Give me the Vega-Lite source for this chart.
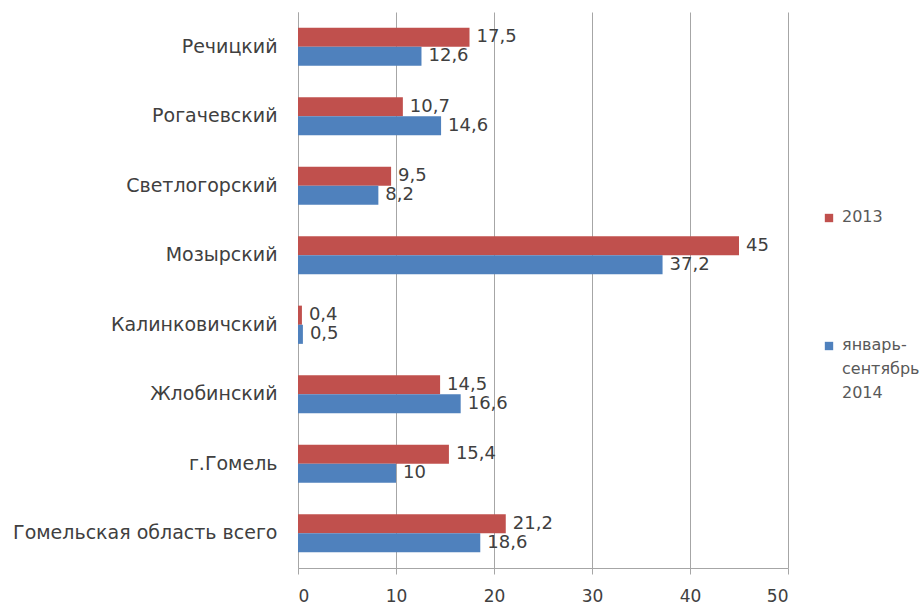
{
  "$schema": "https://vega.github.io/schema/vega-lite/v6.json",
  "width": 490,
  "height": 556,
  "autosize": {"type": "none"},
  "padding": {"left": 298, "top": 12, "right": 135, "bottom": 44},
  "background": "white",
  "config": {
    "locale": {"number": {"decimal": ",", "thousands": " ", "grouping": [3], "currency": ["", ""]}},
    "font": "DejaVu Sans",
    "view": {"stroke": null}
  },
  "data": {
    "values": [
      {"region": "Речицкий", "series": "2013", "value": 17.5},
      {"region": "Речицкий", "series": "январь-сентябрь 2014", "value": 12.6},
      {"region": "Рогачевский", "series": "2013", "value": 10.7},
      {"region": "Рогачевский", "series": "январь-сентябрь 2014", "value": 14.6},
      {"region": "Светлогорский", "series": "2013", "value": 9.5},
      {"region": "Светлогорский", "series": "январь-сентябрь 2014", "value": 8.2},
      {"region": "Мозырский", "series": "2013", "value": 45},
      {"region": "Мозырский", "series": "январь-сентябрь 2014", "value": 37.2},
      {"region": "Калинковичский", "series": "2013", "value": 0.4},
      {"region": "Калинковичский", "series": "январь-сентябрь 2014", "value": 0.5},
      {"region": "Жлобинский", "series": "2013", "value": 14.5},
      {"region": "Жлобинский", "series": "январь-сентябрь 2014", "value": 16.6},
      {"region": "г.Гомель", "series": "2013", "value": 15.4},
      {"region": "г.Гомель", "series": "январь-сентябрь 2014", "value": 10},
      {"region": "Гомельская область всего", "series": "2013", "value": 21.2},
      {"region": "Гомельская область всего", "series": "январь-сентябрь 2014", "value": 18.6}
    ]
  },
  "encoding": {
    "y": {
      "field": "region",
      "type": "nominal",
      "sort": null,
      "scale": {"paddingInner": 0.45, "paddingOuter": 0.225},
      "axis": {
        "title": null,
        "ticks": false,
        "domainColor": "#a6a6a6",
        "labelFont": "DejaVu Sans",
        "labelFontSize": 19,
        "labelColor": "#404040",
        "labelPadding": 21,
        "labelLimit": 300
      }
    },
    "yOffset": {"field": "series", "type": "nominal", "sort": ["2013", "январь-сентябрь 2014"]},
    "x": {
      "field": "value",
      "type": "quantitative",
      "scale": {"domain": [0, 50], "nice": false},
      "axis": {
        "title": null,
        "values": [0, 10, 20, 30, 40, 50],
        "grid": true,
        "gridColor": "#a6a6a6",
        "domainColor": "#a6a6a6",
        "tickColor": "#a6a6a6",
        "tickSize": 6,
        "labelFontSize": 17,
        "labelColor": "#404040",
        "labelPadding": 14,
        "format": "d"
      }
    }
  },
  "layer": [
    {
      "mark": {"type": "bar"},
      "encoding": {
        "color": {
          "field": "series",
          "type": "nominal",
          "sort": ["2013", "январь-сентябрь 2014"],
          "scale": {"domain": ["2013", "январь-сентябрь 2014"], "range": ["#C0504D", "#4F81BD"]},
          "legend": {
            "title": null,
            "orient": "none",
            "legendX": 523,
            "legendY": 198,
            "symbolType": "square",
            "symbolSize": 70,
            "rowPadding": 112,
            "labelOffset": 5,
            "labelFontSize": 16,
            "labelColor": "#595959",
            "labelBaseline": "top",
            "labelLimit": 200,
            "symbolOffset": 0,
            "labelExpr": "datum.label == 'январь-сентябрь 2014' ? ['январь-', 'сентябрь', '2014'] : datum.label",
            "encode": {"labels": {"update": {"lineHeight": {"value": 24}, "dy": {"value": -9}}}}
          }
        }
      }
    },
    {
      "mark": {"type": "text", "align": "left", "baseline": "middle", "dx": 7, "fontSize": 18, "color": "#404040"},
      "encoding": {
        "text": {"field": "value", "type": "quantitative", "format": "~g"}
      }
    }
  ]
}
